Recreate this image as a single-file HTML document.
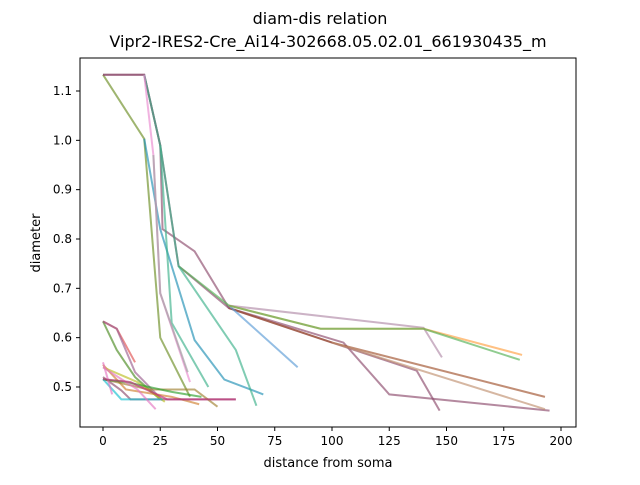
<!DOCTYPE html>
<html><head><meta charset="utf-8"><style>
body{margin:0;background:#fff;font-family:"Liberation Sans","DejaVu Sans",sans-serif}
svg text{font-family:"DejaVu Sans","Liberation Sans",sans-serif}
</style></head><body>
<svg id="chart" width="640" height="480">
<text x="320" y="24" text-anchor="middle" font-size="16">diam-dis relation</text>
<text x="328" y="47" text-anchor="middle" font-size="16">Vipr2-IRES2-Cre_Ai14-302668.05.02.01_661930435_m</text>
<g id="plot"></g>
<rect x="80" y="58" width="496" height="369" fill="none" stroke="#000" stroke-width="1"/>
<g id="xt"></g>
<g id="yt"></g>
<text x="328" y="467" text-anchor="middle" font-size="13">distance from soma</text>
<text transform="translate(40,243) rotate(-90)" text-anchor="middle" font-size="13">diameter</text>
</svg>
<script>
const xTicks=[0,25,50,75,100,125,150,175,200];
const yTicks=[0.5,0.6,0.7,0.8,0.9,1.0,1.1];
const s1=[[0,1.133],[18,1.003],[25,0.60],[38,0.48]];
const s2=[[18,1.003],[25,0.82],[40,0.595],[53,0.515],[70,0.485]];
const s3=[[0,1.133],[18,1.133],[25,0.99],[26,0.82],[40,0.775],[55,0.66],[105,0.59],[125,0.485],[195,0.452]];
const s4=[[0,1.133],[18,1.133],[25,0.99],[33,0.745],[55,0.66],[100,0.59],[137,0.533],[147,0.452]];
const s5=[[55,0.66],[100,0.59],[193,0.48]];
const s6=[[55,0.665],[85,0.54]];
const s7=[[55,0.665],[140,0.62],[148,0.56]];
const s8=[[55,0.665],[95,0.618],[140,0.618],[183,0.565]];
const s9=[[33,0.745],[55,0.665],[95,0.618],[140,0.618],[182,0.555]];
const s10=[[100,0.59],[193,0.455]];
const s11=[[18,1.133],[25,0.99],[33,0.745],[58,0.575],[67,0.462]];
const s12=[[25,0.99],[30,0.63],[46,0.50]];
const s13=[[18,1.133],[22,0.97],[25,0.69],[38,0.51]];
const s14=[[22,0.97],[25,0.69],[37,0.53]];
const s15=[[0,0.633],[6,0.618],[14,0.55]];
const s16=[[0,0.633],[6,0.575],[14,0.52],[25,0.475]];
const s17=[[0,0.633],[6,0.618],[14,0.53],[26,0.473]];
const s18=[[0,0.545],[10,0.495],[30,0.48],[42,0.465]];
const s19=[[0,0.52],[8,0.493],[12,0.475],[58,0.475]];
const s20=[[0,0.516],[20,0.495],[40,0.495],[50,0.46]];
const s21=[[0,0.54],[15,0.51],[27,0.47]];
const s22=[[0,0.515],[10,0.51],[30,0.49],[43,0.48]];
const s23=[[0,0.516],[8,0.475],[26,0.475]];
const s24=[[0,0.55],[4,0.485]];
const s25=[[0,0.54],[15,0.495],[23,0.455]];
const s26=[[0,0.516],[12,0.51],[28,0.475],[58,0.475]];
const series=[s1,s2,s3,s4,s5,s6,s7,s8,s9,s10,s11,s12,s13,s14,s15,s16,s17,s18,s19,s20,s21,s22,s23,s24,s25,s26];
const seriesColors=['#6b8e23','#1f8fb4','#8c4a6b','#8c4a6b','#a0522d','#5b9bd5','#b08aa8','#ffa040','#55b055','#c09070','#3cb08a','#3cb08a','#e98ad0','#a0a0a0','#e05050','#4a8a20','#9b5f8f','#d08030','#8c4a6b','#a08030','#bcbd22','#2ca02c','#17becf','#e377c2','#e377c2','#c0307a'];
const X=v=>103+v*2.29, Y=v=>91+(1.1-v)*493.3;
const ns='http://www.w3.org/2000/svg';
const plot=document.getElementById('plot');
series.forEach((s,i)=>{
 const p=document.createElementNS(ns,'polyline');
 p.setAttribute('points',s.map(d=>X(d[0])+','+Y(d[1])).join(' '));
 p.setAttribute('fill','none');p.setAttribute('stroke',seriesColors[i]);
 p.setAttribute('stroke-width','2');p.setAttribute('stroke-opacity','0.65');
 
 
 plot.appendChild(p);
});
const xt=document.getElementById('xt');
xTicks.forEach(t=>{
 const l=document.createElementNS(ns,'line');
 l.setAttribute('x1',X(t));l.setAttribute('x2',X(t));l.setAttribute('y1',427);l.setAttribute('y2',431);l.setAttribute('stroke','#000');
 
 
 xt.appendChild(l);
 const tx=document.createElementNS(ns,'text');
 tx.setAttribute('x',X(t));tx.setAttribute('y',445);tx.setAttribute('text-anchor','middle');tx.setAttribute('font-size','12');
 tx.textContent=t;
 
 
 xt.appendChild(tx);
});
const yt=document.getElementById('yt');
yTicks.forEach(t=>{
 const l=document.createElementNS(ns,'line');
 l.setAttribute('x1',76);l.setAttribute('x2',80);l.setAttribute('y1',Y(t));l.setAttribute('y2',Y(t));l.setAttribute('stroke','#000');
 
 
 yt.appendChild(l);
 const tx=document.createElementNS(ns,'text');
 tx.setAttribute('x',72);tx.setAttribute('y',Y(t)+4);tx.setAttribute('text-anchor','end');tx.setAttribute('font-size','12');
 tx.textContent=t.toFixed(1);
 
 
 yt.appendChild(tx);
});
</script>
</body></html>
